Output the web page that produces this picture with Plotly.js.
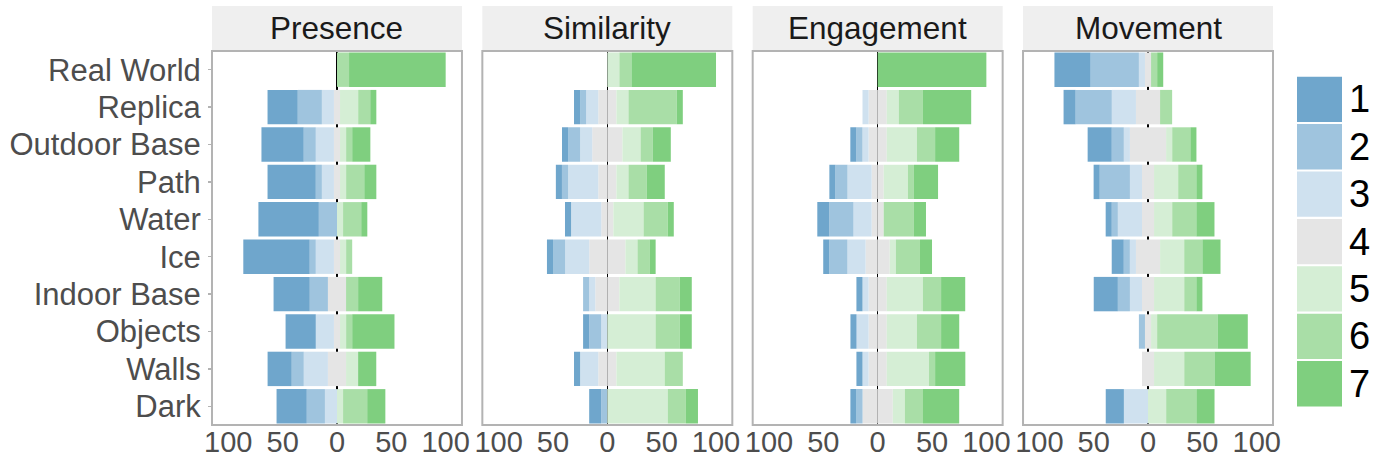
<!DOCTYPE html>
<html><head><meta charset="utf-8">
<script src="https://cdn.plot.ly/plotly-3.0.1.min.js"></script>
<style>html,body{margin:0;padding:0;background:#fff;}#chart{width:1385px;height:466px;}</style>
</head><body><div id="chart"></div>
<script>
// ---- data (percent of respondents per Likert level 1..7) ----
const categories = ['Real World','Replica','Outdoor Base','Path','Water','Ice','Indoor Base','Objects','Walls','Dark'];
const levels = ['1','2','3','4','5','6','7'];
const colors = ['#6fa6cc','#9fc4de','#cfe1ef','#e5e5e5','#d5eed5','#a9dea7','#7fcf7f'];
const facets = ['Presence','Similarity','Engagement','Movement'];
const tickVals = [-100,-50,0,50,100];
const tickText = ['100','50','0','50','100'];

// each facet: rows = level 1..7, columns = categories
const presence = [
  [0,27.8,38.9,44.4,55.6,61.1,33.3,27.8,22.2,27.8],
  [0,22.2,11.1,5.6,16.7,5.6,16.7,0,11.1,16.7],
  [0,11.1,16.7,11.1,0,16.7,0,16.7,22.2,11.1],
  [0,5.6,5.6,5.6,0,5.6,16.7,5.6,16.7,0],
  [0,16.7,5.6,5.6,5.6,5.6,0,5.6,11.1,5.6],
  [11.1,11.1,5.6,16.7,16.7,5.6,11.1,5.6,0,22.2],
  [88.9,5.6,16.7,11.1,5.6,0,22.2,38.9,16.7,16.7]
];
const similarity = [
  [0,5.6,5.6,5.6,5.6,5.6,0,5.6,5.6,11.1],
  [0,5.6,11.1,5.6,0,11.1,5.6,11.1,0,5.6],
  [0,11.1,11.1,27.8,27.8,22.2,5.6,5.6,16.7,0],
  [0,16.7,27.8,16.7,11.1,33.3,22.2,0,16.7,0],
  [11.1,11.1,16.7,11.1,27.8,11.1,33.3,44.4,44.4,55.6],
  [11.1,44.4,11.1,16.7,22.2,11.1,22.2,22.2,16.7,16.7],
  [77.8,5.6,16.7,16.7,5.6,5.6,11.1,11.1,0,11.1]
];
const engagement = [
  [0,0,5.6,5.6,11.1,5.6,5.6,5.6,5.6,5.6],
  [0,0,5.6,11.1,22.2,16.7,0,0,0,5.6],
  [0,5.6,5.6,22.2,16.7,16.7,5.6,11.1,5.6,0],
  [0,16.7,16.7,11.1,11.1,22.2,16.7,16.7,16.7,27.8],
  [0,11.1,27.8,22.2,0,5.6,33.3,27.8,38.9,11.1],
  [0,22.2,16.7,5.6,27.8,22.2,16.7,22.2,5.6,16.7],
  [100,44.4,22.2,22.2,11.1,11.1,22.2,16.7,27.8,33.3]
];
const movement = [
  [33.3,11.1,22.2,5.6,5.6,11.1,22.2,0,0,16.7],
  [44.4,33.3,11.1,27.8,5.6,5.6,11.1,5.6,0,0],
  [5.6,22.2,5.6,11.1,22.2,5.6,11.1,0,0,22.2],
  [5.6,22.2,33.3,11.1,11.1,22.2,11.1,5.6,11.1,0],
  [0,0,5.6,22.2,16.7,22.2,27.8,5.6,27.8,16.7],
  [5.6,11.1,16.7,16.7,22.2,16.7,11.1,55.6,27.8,27.8],
  [5.6,0,5.6,5.6,16.7,16.7,5.6,27.8,33.3,16.7]
];

// ---- build ----
const facetData = [presence, similarity, engagement, movement];
const W = 1385, H = 466, ML = 212, MR = 112, MT = 51, MB = 41;
const plotW = W - ML - MR, plotH = H - MT - MB;
const pw = 0.2356, gap = (1 - 4 * pw) / 3;
const FONT = 'Liberation Sans, Arial, Helvetica, sans-serif';

// stacking order: neutral half closest to zero, then outward
const order = [
  {lvl:3, half:true, sign:-1}, {lvl:2, sign:-1}, {lvl:1, sign:-1}, {lvl:0, sign:-1},
  {lvl:3, half:true, sign:1}, {lvl:4, sign:1}, {lvl:5, sign:1}, {lvl:6, sign:1}
];

const traces = [];
const layout = {
  width: W, height: H,
  margin: {l: ML, r: MR, t: MT, b: MB, pad: 0},
  paper_bgcolor: '#fff', plot_bgcolor: '#fff',
  barmode: 'relative', bargap: 0.08,
  showlegend: false,
  font: {family: FONT, color: '#4d4d4d'},
  yaxis: {
    type: 'category', categoryorder: 'array', categoryarray: categories,
    autorange: 'reversed', anchor: 'x', domain: [0, 1],
    showgrid: false, zeroline: false, showline: false,
    ticks: 'outside', ticklen: 3, tickcolor: '#b3b3b3', tickwidth: 1.5,
    ticklabelstandoff: 1,
    tickfont: {size: 31, color: '#4d4d4d', family: FONT}
  },
  shapes: [], annotations: []
};

facetData.forEach((d, f) => {
  const xa = f === 0 ? 'x' : 'x' + (f + 1);
  const axName = f === 0 ? 'xaxis' : 'xaxis' + (f + 1);
  order.forEach(o => {
    traces.push({
      type: 'bar', orientation: 'h', y: categories,
      x: d[o.lvl].map(v => o.sign * (o.half ? v / 2 : v)),
      xaxis: xa, yaxis: 'y', name: levels[o.lvl],
      marker: {color: colors[o.lvl], line: {width: 0}},
      hoverinfo: 'skip'
    });
  });
  const x0 = f * (pw + gap);
  layout[axName] = {
    domain: [x0, x0 + pw], anchor: 'y', range: [-115, 115],
    tickmode: 'array', tickvals: tickVals, ticktext: tickText,
    ticks: '', ticklabelstandoff: -3,
    tickfont: {size: 29, color: '#4d4d4d', family: FONT},
    showgrid: false, showline: false,
    zeroline: true, zerolinecolor: '#000', zerolinewidth: 1.5
  };
  const dref = xa + ' domain';
  // strip background
  layout.shapes.push({type: 'rect', xref: dref, yref: 'paper', x0: 0, x1: 1, y0: 1.003, y1: 1.12,
    fillcolor: '#efefef', line: {width: 0}, layer: 'below'});
  // panel border
  layout.shapes.push({type: 'rect', xref: dref, yref: 'y domain', x0: 0, x1: 1, y0: 0, y1: 1,
    line: {color: '#b3b3b3', width: 2}, fillcolor: 'rgba(0,0,0,0)'});
  layout.annotations.push({text: facets[f], xref: dref, yref: 'paper', x: 0.5, y: 1.062,
    xanchor: 'center', yanchor: 'middle', showarrow: false,
    font: {size: 31.5, color: '#1a1a1a', family: FONT}});
});

// legend drawn as swatches at the right
levels.forEach((lv, i) => {
  const top = 76.7 + 47.4 * i, bot = top + 45.3;
  const py = p => (H - MB - p) / plotH;
  const px = p => (p - ML) / plotW;
  layout.shapes.push({type: 'rect', xref: 'paper', yref: 'paper',
    x0: px(1297), x1: px(1342), y0: py(bot), y1: py(top),
    fillcolor: colors[i], line: {width: 0}});
  layout.annotations.push({text: lv, xref: 'paper', yref: 'paper',
    x: px(1347), y: py((top + bot) / 2), xanchor: 'left', yanchor: 'middle',
    showarrow: false, font: {size: 38, color: '#000', family: FONT}});
});

Plotly.newPlot('chart', traces, layout, {displayModeBar: false, staticPlot: true});
</script>
</body></html>
